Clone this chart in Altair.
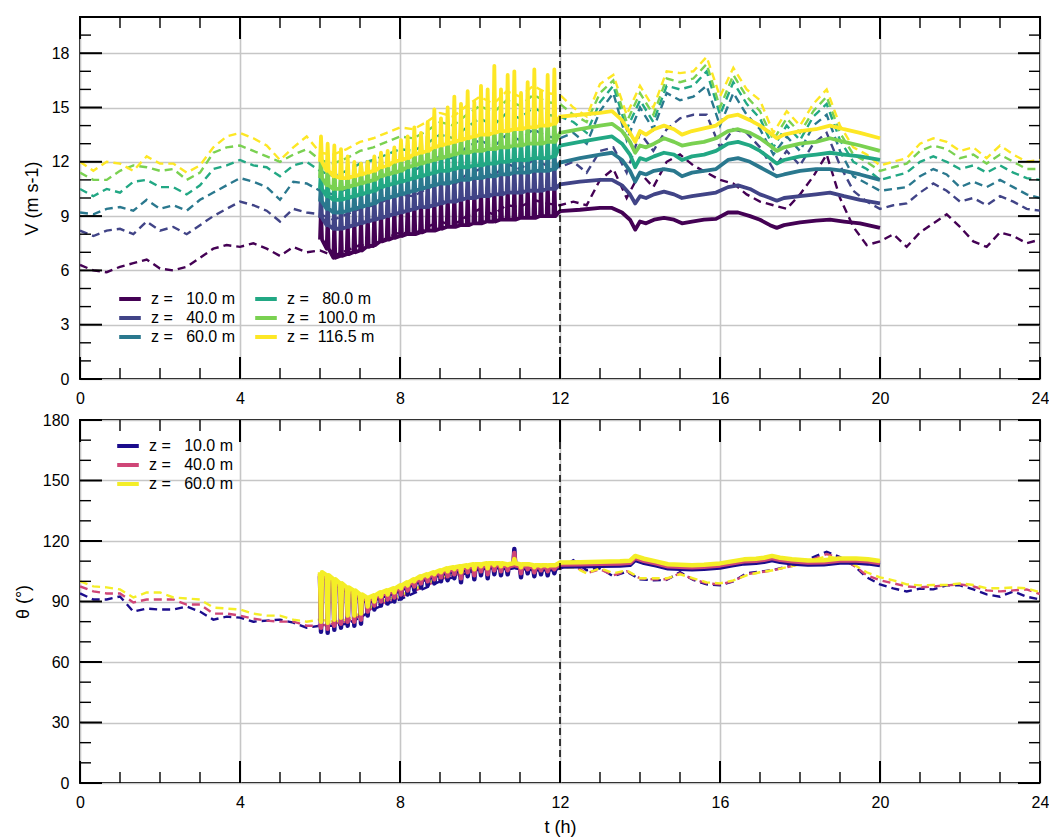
import altair as alt
import pandas as pd

FONT = "Liberation Sans"
W = 960
H_TOP = 362
H_BOT = 363

# ---------------- common time grids ----------------
obs_t = [round(i / 3, 4) for i in range(73)]          # 20-min observation samples, 0-24 h
spike_t = [round(6 + k / 6, 4) for k in range(36)]     # 10-min assimilation cycles, 6-12 h
smooth_t_v = [12.0, 12.5, 13.0, 13.3, 13.55, 13.75, 13.88, 14.0, 14.15, 14.35, 14.6, 14.85,
              15.05, 15.3, 15.6, 15.9, 16.2, 16.45, 16.75, 17.0, 17.25, 17.42, 17.6, 18.0,
              18.4, 18.75, 19.1, 19.5, 20.0]
smooth_t_th = [12.0, 12.5, 13.0, 13.5, 13.75, 13.88, 14.1, 14.4, 14.7, 15.0, 15.3, 15.6, 16.0,
               16.3, 16.6, 16.9, 17.1, 17.3, 17.5, 17.8, 18.2, 18.6, 19.0, 19.4, 19.7, 20.0]

# ---------------- top panel: wind speed ----------------
labels_v = ["z =\u00a0\u00a0\u00a010.0 m", "z =\u00a0\u00a0\u00a040.0 m", "z =\u00a0\u00a0\u00a060.0 m",
            "z =\u00a0\u00a0\u00a080.0 m", "z =\u00a0\u00a0100.0 m", "z =\u00a0\u00a0116.5 m"]
colors_v = ["#440154", "#414487", "#2a788e", "#22a884", "#7ad151", "#fde725"]

obs_v10 = [6.3, 6.0, 5.9, 6.2, 6.4, 6.6, 6.1, 6.0, 6.2, 6.7, 7.2, 7.4, 7.3, 7.5, 7.2, 6.8, 7.3, 7.0, 7.1,
           6.8, 7.1, 7.4, 7.3, 7.8, 8.1, 8.0, 8.4, 8.7, 8.5, 9.0, 9.4, 9.1, 9.6, 9.5, 9.9, 9.7, 9.6,
           9.8, 9.6, 11.0, 11.6, 10.0, 11.4, 10.6, 12.0, 12.4, 11.8, 11.4, 11.0, 10.8, 10.2, 9.8, 9.6,
           9.4, 10.2, 11.2, 12.4, 10.0, 8.4, 7.4, 7.6, 8.0, 7.3, 8.1, 8.6, 9.1, 8.4, 7.6, 7.3, 8.1, 7.9,
           7.5, 7.7]
obs_v40 = [8.2, 7.9, 8.2, 8.3, 8.0, 8.7, 8.2, 8.4, 8.0, 8.5, 9.0, 9.4, 9.8, 9.6, 9.3, 8.7, 9.4, 9.2, 9.1,
           8.8, 9.1, 9.4, 9.6, 9.9, 10.2, 10.1, 10.5, 10.9, 10.7, 11.3, 11.6, 11.2, 11.9, 11.6, 12.1, 11.8,
           11.7, 12.0, 11.4, 12.6, 12.8, 11.4, 13.6, 12.6, 13.8, 14.4, 14.6, 14.6, 12.8, 13.8, 13.6, 12.8,
           11.6, 12.6, 11.8, 13.0, 13.6, 11.8, 10.4, 9.8, 9.4, 9.6, 9.7, 10.3, 10.8, 10.4, 9.8, 10.0, 9.6,
           10.1, 9.8, 9.4, 9.3]
obs_v60 = [9.2, 9.1, 9.4, 9.5, 9.3, 9.9, 9.4, 9.6, 9.3, 9.9, 10.3, 10.7, 11.1, 10.9, 10.6, 9.9, 10.9, 10.8,
           10.4, 10.2, 10.5, 10.8, 11.0, 11.3, 11.6, 11.5, 11.9, 12.3, 12.2, 12.8, 13.2, 12.8, 13.5, 13.2,
           13.8, 13.4, 13.3, 13.6, 13.0, 14.8, 15.8, 13.2, 15.0, 13.8, 15.8, 15.4, 15.6, 16.2, 14.0, 15.8,
           14.6, 13.8, 12.4, 13.4, 12.6, 14.0, 14.6, 12.6, 11.2, 10.8, 10.4, 10.5, 10.6, 11.2, 11.6, 11.3,
           10.6, 10.9, 10.6, 11.0, 10.6, 10.2, 10.0]
obs_v80 = [10.5, 10.1, 10.5, 10.3, 10.9, 11.0, 10.6, 10.6, 10.2, 10.7, 11.6, 11.8, 12.1, 11.8, 11.7, 11.2,
           11.8, 12.0, 11.5, 11.2, 11.5, 11.9, 12.1, 12.4, 12.7, 12.6, 13.0, 13.5, 13.3, 13.9, 14.4, 14.0,
           14.7, 14.4, 15.0, 14.6, 14.5, 14.2, 13.6, 15.3, 16.2, 13.8, 15.4, 14.2, 16.2, 16.0, 16.2, 17.0,
           14.6, 16.4, 15.2, 14.4, 12.8, 14.0, 13.2, 14.5, 15.2, 13.2, 12.0, 11.6, 11.0, 11.2, 11.4, 12.0,
           12.3, 12.0, 11.6, 11.8, 11.4, 11.8, 11.4, 11.1, 11.0]
obs_v100 = [11.4, 11.0, 11.0, 11.5, 11.8, 11.7, 11.5, 11.6, 11.0, 11.4, 12.5, 12.8, 12.9, 12.6, 12.3, 12.0,
            12.4, 12.7, 12.1, 11.9, 12.2, 12.6, 12.8, 13.1, 13.4, 13.3, 13.7, 14.2, 14.0, 14.6, 15.1, 14.7,
            15.4, 15.1, 15.7, 15.3, 15.2, 14.6, 14.2, 15.8, 16.5, 14.2, 15.8, 14.6, 16.6, 16.4, 16.6, 17.4,
            15.0, 16.8, 15.6, 14.8, 13.2, 14.4, 13.6, 14.8, 15.6, 13.6, 12.4, 12.0, 11.5, 11.7, 11.9, 12.6,
            12.9, 12.7, 12.2, 12.4, 11.9, 12.4, 12.0, 11.6, 11.6]
obs_v116 = [12.0, 11.5, 12.0, 11.9, 11.5, 12.3, 11.9, 11.9, 11.4, 11.8, 12.8, 13.4, 13.6, 13.3, 12.9, 12.1,
            12.8, 13.4, 12.5, 12.4, 12.7, 13.1, 13.3, 13.6, 13.9, 13.8, 14.2, 14.7, 14.5, 15.1, 15.6, 15.2,
            15.9, 15.6, 16.2, 15.8, 15.7, 15.0, 14.5, 16.3, 16.8, 14.6, 16.2, 15.0, 17.0, 16.9, 17.0, 17.8,
            15.6, 17.2, 16.0, 15.4, 13.6, 14.8, 14.0, 15.2, 16.0, 14.0, 12.8, 12.4, 11.8, 12.0, 12.2, 13.0,
            13.3, 13.1, 12.6, 12.8, 12.2, 12.9, 12.4, 12.0, 12.1]

# model: base level and spike peak for every cycle (6-12 h)
base_v10 = [7.7, 7.2, 6.7, 6.8, 6.9, 7.0, 7.1, 7.3, 7.4, 7.6, 7.7, 7.8, 7.9, 8.0, 8.0, 8.1, 8.2, 8.2, 8.3,
            8.4, 8.4, 8.5, 8.5, 8.6, 8.6, 8.7, 8.7, 8.8, 8.8, 8.8, 8.9, 8.9, 8.9, 9.0, 9.0, 9.0]
peak_v10 = [9.4, 9.0, 8.8, 8.8, 8.9, 9.0, 9.1, 9.3, 9.3, 9.4, 9.6, 9.6, 9.7, 9.8, 9.9, 10.0, 10.1, 10.1,
            10.2, 10.3, 10.4, 10.4, 10.5, 10.5, 10.6, 10.6, 10.7, 10.8, 10.8, 10.8, 10.9, 10.9, 10.9, 11.0,
            11.0, 11.0]
base_v40 = [8.9, 8.5, 8.3, 8.3, 8.4, 8.5, 8.6, 8.7, 8.8, 8.9, 9.0, 9.1, 9.2, 9.3, 9.4, 9.5, 9.5, 9.6, 9.7,
            9.8, 9.8, 9.9, 10.0, 10.0, 10.1, 10.1, 10.2, 10.2, 10.3, 10.3, 10.3, 10.4, 10.4, 10.4, 10.5, 10.5]
peak_v40 = [10.3, 9.9, 9.7, 9.7, 9.8, 9.9, 10.0, 10.1, 10.2, 10.4, 10.5, 10.6, 10.7, 10.8, 10.9, 11.0,
            11.1, 11.2, 11.3, 11.3, 11.4, 11.5, 11.5, 11.6, 11.6, 11.7, 11.7, 11.8, 11.8, 11.9, 11.9, 11.9,
            12.0, 12.0, 12.0, 12.1]
base_v60 = [9.8, 9.4, 9.2, 9.2, 9.3, 9.4, 9.5, 9.6, 9.7, 9.9, 10.0, 10.1, 10.2, 10.3, 10.4, 10.5, 10.6,
            10.7, 10.8, 10.8, 10.9, 11.0, 11.0, 11.1, 11.1, 11.2, 11.2, 11.3, 11.3, 11.4, 11.4, 11.4, 11.5,
            11.5, 11.5, 11.6]
peak_v60 = [11.0, 10.6, 10.4, 10.4, 10.5, 10.6, 10.7, 10.8, 10.9, 11.1, 11.2, 11.3, 11.4, 11.5, 11.7,
            11.8, 11.9, 12.0, 12.1, 12.2, 12.3, 12.4, 12.4, 12.5, 12.5, 12.6, 12.6, 12.7, 12.7, 12.8, 12.8,
            12.8, 12.9, 12.9, 12.9, 13.0]
base_v80 = [10.5, 10.1, 9.9, 9.9, 10.0, 10.1, 10.2, 10.3, 10.4, 10.6, 10.7, 10.8, 10.9, 11.0, 11.1, 11.2,
            11.3, 11.4, 11.5, 11.5, 11.6, 11.7, 11.7, 11.8, 11.8, 11.9, 11.9, 12.0, 12.0, 12.1, 12.1, 12.1,
            12.2, 12.2, 12.2, 12.3]
peak_v80 = [11.7, 11.3, 11.1, 11.1, 11.2, 11.3, 11.4, 11.5, 11.6, 11.8, 11.9, 12.0, 12.1, 12.3, 12.4,
            12.5, 12.6, 12.7, 12.8, 12.9, 13.0, 13.1, 13.1, 13.2, 13.2, 13.3, 13.3, 13.4, 13.4, 13.5, 13.5,
            13.6, 13.6, 13.6, 13.7, 13.7]
base_v100 = [11.1, 10.7, 10.5, 10.5, 10.6, 10.7, 10.8, 10.9, 11.0, 11.2, 11.3, 11.4, 11.5, 11.7, 11.8,
             11.9, 12.0, 12.1, 12.2, 12.3, 12.4, 12.5, 12.5, 12.6, 12.6, 12.7, 12.7, 12.8, 12.8, 12.9, 12.9,
             13.0, 13.0, 13.0, 13.1, 13.1]
peak_v100 = [12.5, 12.0, 11.8, 11.7, 11.7, 11.8, 11.9, 12.0, 12.1, 12.3, 12.4, 12.6, 12.7, 12.9, 13.1,
             13.2, 13.4, 13.5, 13.6, 13.7, 13.9, 14.0, 14.1, 14.1, 14.2, 14.3, 14.3, 14.4, 14.4, 14.5, 14.5,
             14.6, 14.6, 14.7, 14.7, 14.7]
base_v116 = [12.0, 11.5, 11.2, 11.1, 11.1, 11.2, 11.3, 11.4, 11.5, 11.7, 11.8, 12.0, 12.1, 12.2, 12.4,
             12.5, 12.6, 12.8, 12.9, 13.0, 13.1, 13.2, 13.3, 13.4, 13.5, 13.5, 13.6, 13.7, 13.7, 13.8, 13.8,
             13.9, 13.9, 14.0, 14.0, 14.1]
peak_v116 = [13.4, 13.0, 12.9, 12.7, 12.3, 12.0, 11.9, 12.0, 12.3, 12.5, 12.6, 12.8, 13.2, 13.4, 13.9,
             13.6, 14.2, 14.9, 14.4, 15.0, 15.6, 15.2, 15.9, 15.3, 16.2, 16.0, 17.3, 16.0, 16.8, 17.0, 15.8,
             16.4, 17.1, 15.9, 16.8, 17.1]

# model after 12 h (free forecast)
fc_v10 = [9.28, 9.35, 9.45, 9.45, 9.2, 8.8, 8.25, 8.7, 8.6, 8.8, 8.9, 8.8, 8.6, 8.7, 8.8, 8.85, 9.2, 9.2,
          9.0, 8.8, 8.5, 8.35, 8.5, 8.65, 8.75, 8.8, 8.7, 8.6, 8.35]
fc_v40 = [10.75, 10.9, 11.0, 11.0, 10.7, 10.2, 9.7, 10.1, 10.0, 10.2, 10.35, 10.2, 10.0, 10.1, 10.2, 10.3,
          10.6, 10.7, 10.5, 10.2, 10.0, 9.85, 10.0, 10.1, 10.2, 10.3, 10.1, 9.9, 9.7]
fc_v60 = [11.95, 12.2, 12.4, 12.5, 12.1, 11.5, 10.9, 11.4, 11.3, 11.5, 11.6, 11.5, 11.2, 11.4, 11.5, 11.6,
          12.1, 12.2, 12.0, 11.7, 11.4, 11.2, 11.3, 11.5, 11.6, 11.6, 11.5, 11.3, 11.0]
fc_v80 = [12.9, 13.1, 13.3, 13.4, 13.0, 12.4, 11.7, 12.2, 12.1, 12.3, 12.5, 12.4, 12.1, 12.3, 12.4, 12.6,
          13.0, 13.1, 12.9, 12.6, 12.2, 11.9, 12.1, 12.3, 12.4, 12.5, 12.4, 12.3, 12.1]
fc_v100 = [13.6, 13.8, 14.0, 14.1, 13.7, 13.1, 12.5, 12.9, 12.8, 13.0, 13.3, 13.1, 12.9, 13.0, 13.1, 13.3,
           13.7, 13.8, 13.6, 13.3, 12.9, 12.6, 12.8, 13.0, 13.1, 13.3, 13.1, 12.9, 12.6]
fc_v116 = [14.5, 14.6, 14.7, 14.8, 14.3, 13.6, 13.1, 13.7, 13.5, 13.8, 14.0, 13.8, 13.5, 13.7, 13.85, 14.0,
           14.5, 14.6, 14.3, 14.0, 13.6, 13.3, 13.5, 13.7, 13.8, 14.0, 13.8, 13.6, 13.3]

# ---------------- bottom panel: wind direction ----------------
labels_th = ["z =\u00a0\u00a0\u00a010.0 m", "z =\u00a0\u00a0\u00a040.0 m", "z =\u00a0\u00a0\u00a060.0 m"]
colors_th = ["#1b0c8c", "#cf4677", "#f4ee27"]

obs_th10 = [94, 91, 91, 92.5, 85, 86.5, 86, 86, 87.5, 85, 81, 82.5, 82, 80, 80.5, 81, 79.5, 77, 78,
            78, 79, 82, 86, 89, 91, 94, 97, 100, 102, 104, 106, 107, 107, 107, 106, 107, 106,
            110.5, 105.5, 106.5, 102.5, 104.8, 101, 100.5, 100.7, 104.5, 100.7, 98.5, 98, 100, 104, 104.8,
            105.6, 107.3, 109, 112, 114.7, 112, 108, 102, 98.5, 96.5, 95, 96.4, 96, 98, 98, 96, 93.5, 92.4,
            95, 92.4, 91]
obs_th40 = [97.5, 95, 94, 94, 89.5, 91, 91, 91, 88.5, 88.5, 84, 84, 83, 81.5, 80.5, 80, 80, 78, 78,
            79, 80, 83, 87, 90, 92, 95, 98, 101, 103, 105, 106.5, 107, 107.5, 107, 106.5, 107, 106.5,
            108, 104, 106, 103, 105, 101.5, 101, 101, 104, 101, 99, 98.5, 100, 103.5, 104.5, 105.5, 107,
            108.5, 111, 113.5, 111.5, 108, 103, 100.5, 99, 97.5, 97, 97.5, 98, 98.5, 97.5, 95.5, 95, 95.5,
            96, 93.7]
obs_th60 = [100, 97.5, 97, 96, 92, 94.5, 94.5, 92, 91.5, 91, 87, 86.5, 86, 84, 83, 83, 81, 80, 81,
            80, 81, 84, 88, 91, 93, 96, 99, 102, 104, 106, 107, 107.5, 108, 107.5, 107, 107.5, 107,
            107, 104, 106.5, 104, 105.5, 101.5, 101.5, 101.5, 103.5, 101.5, 99.5, 99, 100.5, 103, 104.5,
            105.5, 107, 108.5, 110.5, 112.5, 111, 108.5, 104.5, 102, 100.5, 98.5, 98, 98.2, 98.2, 99, 98.2,
            96.6, 96.6, 97, 96.5, 94.6]

base_th10 = [102.5, 101, 99, 97, 95, 93.5, 91.5, 90, 91, 92.5, 93.5, 94.5, 96, 97.5, 99, 100.5, 101.5,
             102.5, 103.5, 104.5, 105, 105.5, 106, 106.5, 106.5, 107, 107, 107, 106.5, 107, 106.5, 106.5,
             106, 106, 106, 106]
spike_th10 = [75, 74.5, 76, 77, 78, 78, 79, 83, 86, 88, 89, 90, 91.5, 93.5, 95.5, 97, 98, 99, 100, 100.5,
              101.5, 99.5, 102.5, 101, 103, 101.5, 103.5, 103, 103.5, 116, 102, 104, 102.5, 103.5, 103, 104]
base_th40 = [103.5, 102, 100, 98, 96, 94.5, 92.5, 91, 92, 93.5, 94.5, 95.5, 97, 98.5, 100, 101.5, 102.5,
             103.5, 104.5, 105.5, 106, 106.5, 107, 107.5, 107.5, 108, 108, 108, 107.5, 108, 107.5, 107.5,
             107, 107, 107, 107]
spike_th40 = [77, 76.5, 78, 79, 80, 80, 81, 85, 88, 90, 91, 92, 93.5, 95.5, 97.5, 99, 100, 101, 102, 102.5,
              103.5, 101.5, 104.5, 103, 105, 103.5, 105.5, 105, 105.5, 114, 104, 106, 104.5, 105.5, 105, 106]
base_th60 = [104.5, 103, 101, 99, 97, 95.5, 93.5, 92, 93, 94.5, 95.5, 96.5, 98, 99.5, 101, 102.5, 103.5,
             104.5, 105.5, 106.5, 107, 107.5, 108, 108.5, 108.5, 109, 109, 109, 108.5, 109, 108.5, 108.5,
             108, 108, 108, 108]
spike_th60 = [80, 79.5, 81, 82, 83, 83, 84, 87.5, 90, 92.5, 93.5, 94.5, 96.5, 98, 100, 101.5, 102.5, 103.5,
              104.5, 105, 106, 104.5, 107, 106, 107.5, 106.5, 108, 107.5, 108, 111, 107, 108.5, 107, 107.5,
              107.5, 108]

fc_th10 = [107.3, 107.5, 107.7, 107.9, 108.2, 110.6, 109.2, 107.9, 106.5, 106.2, 106.0, 106.2, 106.9,
           107.9, 108.9, 109.2, 109.7, 110.6, 109.7, 108.9, 108.3, 108.5, 109.3, 109.3, 108.9, 108.1]
fc_th40 = [108.3, 108.5, 108.7, 108.9, 109.2, 111.6, 110.2, 108.9, 107.5, 107.2, 107.0, 107.2, 107.9,
           108.9, 109.9, 110.2, 110.7, 111.6, 110.7, 109.9, 109.3, 109.5, 110.3, 110.3, 109.9, 109.1]
fc_th60 = [109.3, 109.5, 109.7, 109.9, 110.2, 112.6, 111.2, 109.9, 108.5, 108.2, 108.0, 108.2, 108.9,
           109.9, 110.9, 111.2, 111.7, 112.6, 111.7, 110.9, 110.3, 110.5, 111.3, 111.3, 110.9, 110.1]

# ---------------- axes ----------------
x_major = [0, 4, 8, 12, 16, 20, 24]
x_minor = [h for h in range(25) if h % 4]
v_major = [0, 3, 6, 9, 12, 15, 18]
v_minor = [v for v in range(21) if v % 3]
th_major = [0, 30, 60, 90, 120, 150, 180]
th_minor = [d for d in range(0, 181, 10) if d % 30]


def model_frame(label, base, peak, fc_t, fc_v):
    """Assimilation cycles (base level with the analysis spike) followed by the forecast."""
    ts, vs = [], []
    for tk, b, p in zip(spike_t, base, peak):
        ts += [tk, tk + 0.025, tk + 0.05]
        vs += [b, p, b]
    ts += fc_t
    vs += fc_v
    return pd.DataFrame({"t": ts, "v": vs, "z": label})


def obs_frame(labels, series):
    frames = [pd.DataFrame({"t": obs_t, "v": s, "z": lab}) for lab, s in zip(labels, series)]
    return pd.concat(frames, ignore_index=True)


xs = alt.Scale(domain=[0, 24], nice=False, zero=False)
GRID = "#c6c6c6"


def x_axis(with_title):
    kw = dict(values=x_major, grid=True, gridColor=GRID, gridWidth=1.6, ticks=False, domain=False,
              labelFont=FONT, labelFontSize=16, labelColor="black", labelPadding=11, labelFlush=False,
              titleFont=FONT, titleFontSize=18, titleFontWeight="normal", titleColor="black",
              titlePadding=8)
    return alt.Axis(title="t (h)" if with_title else None, **kw)


def y_axis(values, title):
    return alt.Axis(values=values, grid=True, gridColor=GRID, gridWidth=1.6, ticks=False, domain=False,
                    labelFont=FONT, labelFontSize=16, labelColor="black", labelPadding=11,
                    title=title, titleFont=FONT, titleFontSize=18, titleFontWeight="normal",
                    titleColor="black", titlePadding=10)


def panel(height, ys, xaxis, yaxis, obs_df, model_dfs, cscale, legend, y_major, y_minor, model_width):
    X = alt.X("t:Q", scale=xs, axis=xaxis)
    Y = alt.Y("v:Q", scale=ys, axis=yaxis)
    C = alt.Color("z:N", scale=cscale, legend=legend)
    layers = []
    layers.append(alt.Chart(obs_df).mark_line(strokeDash=[8, 5], strokeWidth=2.4, clip=True)
                  .encode(x=X, y=Y, color=C, detail="z:N"))
    for df in model_dfs:
        layers.append(alt.Chart(df).mark_line(strokeWidth=model_width, strokeJoin="round", clip=True)
                      .encode(x=X, y=Y, color=C))
    layers.append(alt.Chart(pd.DataFrame({"t": [12]})).mark_rule(color="black", strokeWidth=1.5,
                                                                  strokeDash=[7, 4]).encode(x=X))
    for vals, ln, sw in [(x_minor, 11, 1.4), (x_major, 22, 2)]:
        d = pd.DataFrame({"t": vals})
        layers.append(alt.Chart(d).mark_rule(color="black", strokeWidth=sw)
                      .encode(x=X, y=alt.value(height), y2=alt.value(height - ln)))
        layers.append(alt.Chart(d).mark_rule(color="black", strokeWidth=sw)
                      .encode(x=X, y=alt.value(0), y2=alt.value(ln)))
    for vals, ln, sw in [(y_minor, 11, 1.4), (y_major, 22, 2)]:
        d = pd.DataFrame({"v": vals})
        layers.append(alt.Chart(d).mark_rule(color="black", strokeWidth=sw)
                      .encode(y=Y, x=alt.value(0), x2=alt.value(ln)))
        layers.append(alt.Chart(d).mark_rule(color="black", strokeWidth=sw)
                      .encode(y=Y, x=alt.value(W), x2=alt.value(W - ln)))
    return alt.layer(*layers).properties(width=W, height=height)


cs_v = alt.Scale(domain=labels_v, range=colors_v)
cs_th = alt.Scale(domain=labels_th, range=colors_th)

# a short horizontal stroke, a little longer than the 18 px symbol box
STROKE = "M-1.2,0H1.2"
leg_common = dict(orient="none", title=None, symbolType=STROKE, symbolStrokeWidth=4, symbolSize=324,
                  symbolDash=[1, 0], symbolFillColor="transparent", labelFont=FONT, labelFontSize=16,
                  labelColor="black", labelOffset=10, labelLimit=300, rowPadding=0, padding=0)
leg_v = alt.Legend(legendX=39, legendY=271, columns=2, columnPadding=11, **leg_common)
leg_th = alt.Legend(legendX=37, legendY=15, columns=1, **leg_common)

obs_v = obs_frame(labels_v, [obs_v10, obs_v40, obs_v60, obs_v80, obs_v100, obs_v116])
models_v = [model_frame(labels_v[0], base_v10, peak_v10, smooth_t_v, fc_v10),
            model_frame(labels_v[1], base_v40, peak_v40, smooth_t_v, fc_v40),
            model_frame(labels_v[2], base_v60, peak_v60, smooth_t_v, fc_v60),
            model_frame(labels_v[3], base_v80, peak_v80, smooth_t_v, fc_v80),
            model_frame(labels_v[4], base_v100, peak_v100, smooth_t_v, fc_v100),
            model_frame(labels_v[5], base_v116, peak_v116, smooth_t_v, fc_v116)]

obs_th = obs_frame(labels_th, [obs_th10, obs_th40, obs_th60])
models_th = [model_frame(labels_th[0], base_th10, spike_th10, smooth_t_th, fc_th10),
             model_frame(labels_th[1], base_th40, spike_th40, smooth_t_th, fc_th40),
             model_frame(labels_th[2], base_th60, spike_th60, smooth_t_th, fc_th60)]

top = panel(H_TOP, alt.Scale(domain=[0, 20], nice=False, zero=False), x_axis(False),
            y_axis(v_major, "V (m s-1)"), obs_v, models_v, cs_v, leg_v, v_major, v_minor, 3.8)
bottom = panel(H_BOT, alt.Scale(domain=[0, 180], nice=False, zero=False), x_axis(True),
               y_axis(th_major, "\u03b8 (\u00b0)"), obs_th, models_th, cs_th, leg_th, th_major, th_minor,
               4.5)

chart = (alt.vconcat(top, bottom, spacing=4)
         .resolve_scale(color="independent")
         .properties(padding={"left": 5, "top": 7, "right": -1, "bottom": 0}, background="white")
         .configure(font=FONT)
         .configure_view(stroke="black", strokeWidth=2))

chart.save("out.html", embed_options={"renderer": "svg", "actions": False})
